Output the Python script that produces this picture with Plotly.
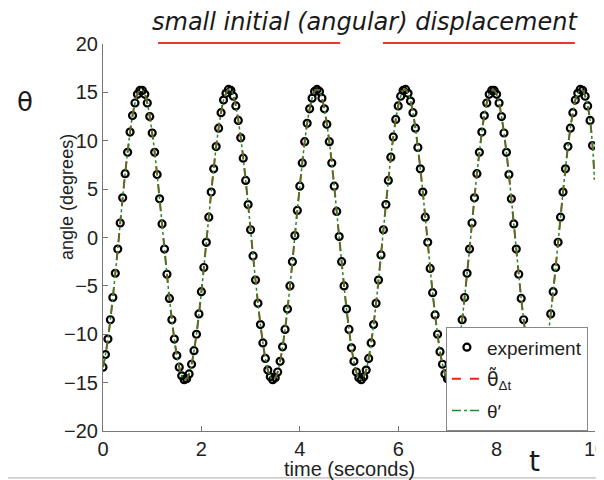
import plotly.graph_objects as go

# sampling instants of the recorded angle (s)
t_exp = [round(0.05 * i, 2) for i in range(200)]

# experiment: angle (degrees)
theta_exp = [
    -13.4, -12.1, -10.5, -8.5, -6.2, -3.7, -1.2, 1.5, 4.1, 6.6,
    8.8, 10.9, 12.6, 13.9, 14.8, 15.2, 15.2, 14.8, 13.9, 12.5,
    10.8, 8.8, 6.5, 4.0, 1.4, -1.2, -3.8, -6.3, -8.5, -10.5,
    -12.2, -13.4, -14.3, -14.7, -14.6, -14.1, -13.1, -11.7, -10.0, -7.9,
    -5.6, -3.1, -0.5, 2.1, 4.7, 7.1, 9.4, 11.3, 12.9, 14.2,
    14.9, 15.3, 15.2, 14.6, 13.6, 12.1, 10.3, 8.2, 5.9, 3.4,
    0.8, -1.9, -4.4, -6.8, -9.0, -10.9, -12.5, -13.7, -14.4, -14.7,
    -14.5, -13.9, -12.8, -11.3, -9.5, -7.4, -5.0, -2.5, 0.2, 2.8,
    5.3, 7.7, 9.9, 11.8, 13.3, 14.4, 15.1, 15.3, 15.1, 14.4,
    13.3, 11.7, 9.9, 7.7, 5.3, 2.7, 0.1, -2.5, -5.0, -7.4,
    -9.5, -11.4, -12.8, -13.9, -14.5, -14.7, -14.4, -13.7, -12.5, -10.9,
    -9.0, -6.8, -4.4, -1.8, 0.8, 3.4, 5.9, 8.3, 10.4, 12.2,
    13.6, 14.6, 15.2, 15.3, 14.9, 14.1, 12.9, 11.3, 9.3, 7.1,
    4.7, 2.1, -0.5, -3.2, -5.7, -8.0, -10.0, -11.8, -13.1, -14.1,
    -14.6, -14.7, -14.3, -13.4, -12.1, -10.5, -8.5, -6.2, -3.7, -1.2,
    1.5, 4.1, 6.6, 8.8, 10.9, 12.6, 13.9, 14.8, 15.2, 15.2,
    14.8, 13.9, 12.5, 10.8, 8.8, 6.5, 4.0, 1.4, -1.2, -3.8,
    -6.3, -8.5, -10.5, -12.2, -13.4, -14.3, -14.7, -14.6, -14.1, -13.1,
    -11.7, -10.0, -7.9, -5.6, -3.1, -0.5, 2.1, 4.7, 7.1, 9.4,
    11.3, 12.9, 14.2, 14.9, 15.3, 15.2, 14.6, 13.6, 12.1, 9.5,
]

# model curves follow the circles, and run a little past the last one
t_tail = [9.99]
theta_tail = [6.0]
t_model = t_exp + t_tail
theta_dt = theta_exp + theta_tail
theta_prime = theta_exp + theta_tail

x_ticks = [0, 2, 4, 6, 8, 10]
y_ticks = [-20, -15, -10, -5, 0, 5, 10, 15, 20]

FONT = "Liberation Sans, Arial, sans-serif"
DJ = "DejaVu Sans, sans-serif"

fig = go.Figure()
fig.add_trace(go.Scatter(
    x=t_exp, y=theta_exp, mode="markers", name="experiment", legendgroup="a",
    marker=dict(symbol="circle-open", size=7, color="black",
                line=dict(width=2.2, color="black")),
))
fig.add_trace(go.Scatter(
    x=t_model, y=theta_dt, mode="lines", legendgroup="b",
    name="<span style=\"font-family:'DejaVu Sans'\">θ\u0303</span><sub>Δt</sub>",
    line=dict(color="#e8241c", width=2, dash="dash", shape="spline"),
))
fig.add_trace(go.Scatter(
    x=t_model, y=theta_prime, mode="lines", name="θ\u2032", legendgroup="c",
    line=dict(color="#1f8c2a", width=1.5, dash="dashdot", shape="spline"),
))

fig.update_layout(
    width=596, height=472,
    margin=dict(l=95, r=9, t=36, b=49),
    paper_bgcolor="white", plot_bgcolor="white",
    font=dict(family=FONT, size=19, color="#222"),
    showlegend=True,
    legend=dict(
        x=0.697, y=0.268, xanchor="left", yanchor="top",
        bgcolor="white", bordercolor="#888", borderwidth=1,
        font=dict(size=19, family=FONT, color="#222"),
        tracegroupgap=4,
    ),
    xaxis=dict(
        range=[0, 10], tickvals=x_ticks, ticktext=[str(v) for v in x_ticks],
        showline=True, linecolor="#777", linewidth=1,
        ticks="inside", ticklen=5, tickcolor="#777",
        showgrid=False, zeroline=False, mirror=False,
        ticklabeloverflow="allow", automargin=False,
        tickfont=dict(size=20, family=FONT, color="#222"),
    ),
    yaxis=dict(
        range=[-20, 20], tickvals=y_ticks,
        showline=True, linecolor="#777", linewidth=1,
        ticks="inside", ticklen=5, tickcolor="#777",
        showgrid=False, zeroline=False, mirror=False,
        ticklabeloverflow="allow", automargin=False,
        tickfont=dict(size=20, family=FONT, color="#222"),
    ),
)

annotations = [
    dict(text="time (seconds)", x=0.5, y=-0.097, xref="paper", yref="paper",
         showarrow=False, font=dict(size=20, family=FONT, color="#222"),
         xanchor="center", yanchor="middle"),
    dict(text="angle (degrees)", x=-0.073, y=0.605, xref="paper", yref="paper",
         showarrow=False, textangle=-90,
         font=dict(size=18, family=FONT, color="#222"),
         xanchor="center", yanchor="middle"),
    dict(text="<i>small initial (angular) displacement</i>", x=0.533, y=1.058,
         xref="paper", yref="paper", showarrow=False,
         font=dict(size=24, family=DJ, color="#1a1a1a"),
         xanchor="center", yanchor="middle"),
    dict(text="θ", x=-0.158, y=0.85, xref="paper", yref="paper",
         showarrow=False, font=dict(size=26, family=DJ, color="#1a1a1a"),
         xanchor="center", yanchor="middle"),
    dict(text="t", x=0.878, y=-0.078, xref="paper", yref="paper",
         showarrow=False, font=dict(size=28, family=DJ, color="#1a1a1a"),
         xanchor="center", yanchor="middle"),
]
fig.update_layout(annotations=annotations)

shapes = [
    dict(type="line", xref="paper", yref="paper", x0=0.112, x1=0.482,
         y0=1.0026, y1=1.0026, line=dict(color="#e8362e", width=2.2)),
    dict(type="line", xref="paper", yref="paper", x0=0.569, x1=0.959,
         y0=1.0026, y1=1.0026, line=dict(color="#e8362e", width=2.2)),
    dict(type="line", xref="paper", yref="paper", x0=-0.21, x1=1.02,
         y0=-0.121, y1=-0.121, line=dict(color="#bbbbbb", width=1.2)),
]
fig.update_layout(shapes=shapes)

fig.write_html("out.html")
